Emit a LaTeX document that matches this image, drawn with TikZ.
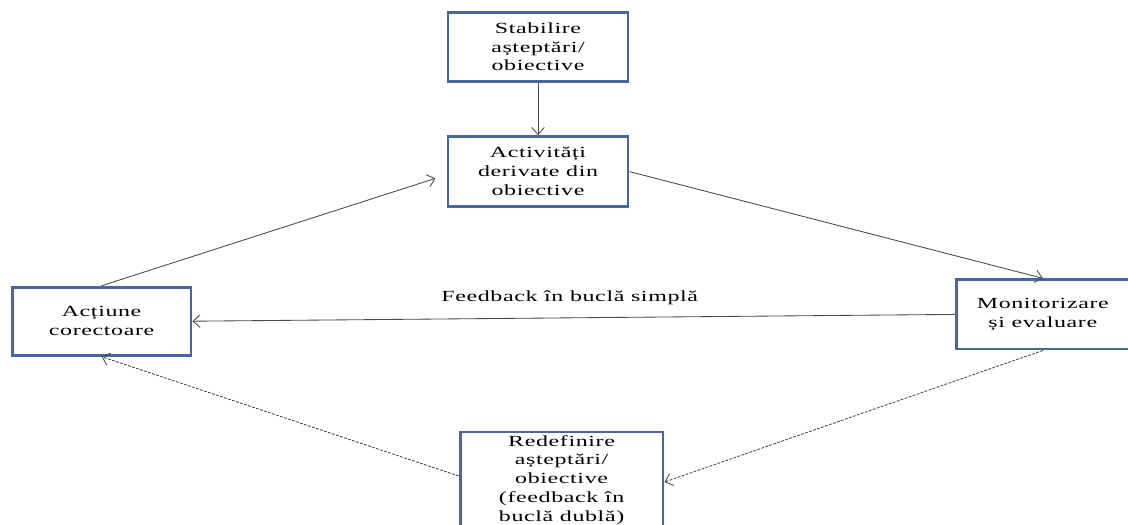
\documentclass[tikz,border=0pt]{standalone}
\usepackage{fontspec}
\setmainfont{Liberation Serif}[FakeStretch=1.55,LetterSpace=4]
\usepackage{tikz}
\usetikzlibrary{positioning}
\usetikzlibrary{arrows.meta}
\usepackage{xcolor}
\definecolor{boxblue}{RGB}{72,102,158}
\definecolor{linegray}{RGB}{70,70,70}

\tikzset{
  stagebox/.style={draw=boxblue, line width=2.1pt, fill=white, align=center,
    inner sep=0pt, font=\fontsize{11pt}{13.4pt}\selectfont},
  flow/.style={linegray, line width=0.6pt, -{Straight Barb[length=5pt,width=9pt]}},
  dflow/.style={flow, dash pattern=on 2pt off 1pt}
}

\begin{document}
\begin{tikzpicture}
    \clip (0,0) rectangle (28.2,-13.1);
    \fill[white] (0,0) rectangle (28.2,-13.1);
    % boxes
    \node[stagebox, minimum width=4.5cm, minimum height=1.72cm] (stab) at (13.45,-1.17) {Stabilire\\așteptări/\\obiective};
    \node[stagebox, minimum width=4.5cm, minimum height=1.75cm] (activ) at (13.45,-4.29) {Activități\\derivate din\\obiective};
    \node[stagebox, minimum width=4.47cm, minimum height=1.7cm] (actiune) at (2.54,-8.03) {Acțiune\\corectoare};
    \node[stagebox, minimum width=4.32cm, minimum height=1.73cm] (monit) at (26.07,-7.86) {Monitorizare\\și evaluare};
    \node[stagebox, minimum width=5.07cm, minimum height=2.4cm] (redef) at (14.04,-12.0) {Redefinire\\așteptări/\\obiective\\(feedback în\\buclă dublă)};
    % connectors
    \draw[flow] (stab) -- (activ);
    \draw[flow] (actiune.north) -- ([shift={(-0.28,-0.17)}]activ.west);
    \draw[flow] (activ.east) -- (monit.north);
    \draw[flow] (monit.west) -- node[above=0.2cm, text=black, font=\fontsize{11pt}{13.4pt}\selectfont, xshift=-0.1cm] (simpla) {Feedback în buclă simplă} (actiune.east);
    \draw[dflow] (monit.south) -- ([yshift=-0.05cm]redef.east);
    \draw[dflow] ([yshift=0.1cm]redef.west) -- (actiune.south);
\end{tikzpicture}
\end{document}
